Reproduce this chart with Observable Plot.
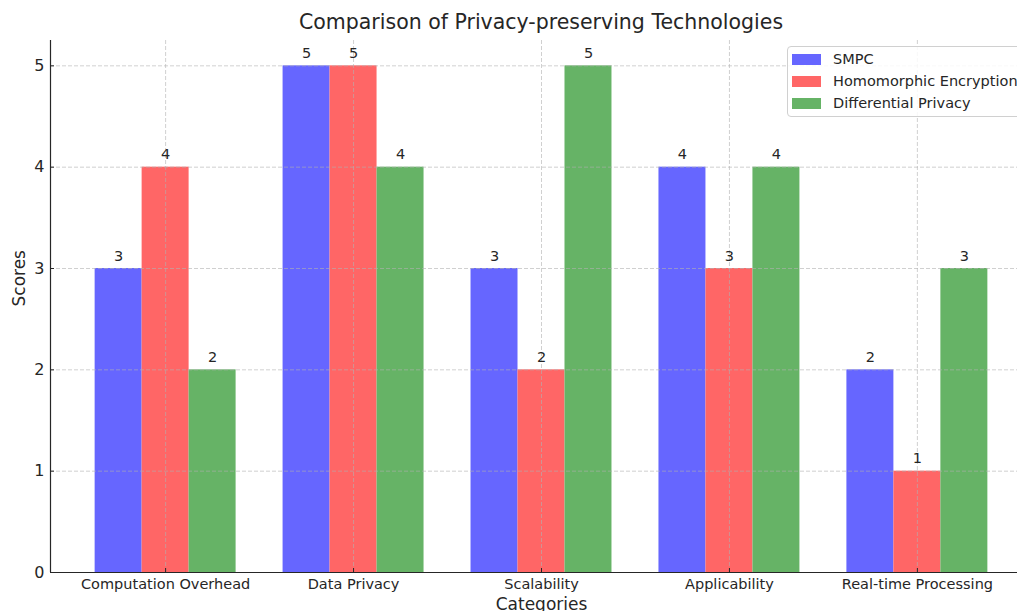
<!DOCTYPE html>
<html>
<head>
<meta charset="utf-8">
<script src="https://cdn.jsdelivr.net/npm/d3@7"></script>
<script src="https://cdn.jsdelivr.net/npm/@observablehq/plot@0.6"></script>
<style>
  html, body { margin: 0; padding: 0; background: #fff; overflow: hidden; }
  #wrap { position: relative; width: 1017px; height: 611px; overflow: hidden; font-family: "DejaVu Sans", sans-serif; color: #262626; }
  #title { position: absolute; left: 50px; width: 982px; top: 8px; text-align: center; font-size: 20.5px; line-height: 28px; }
  #legend { position: absolute; left: 787px; top: 46px; width: 260px; height: 71px; border: 1px solid #d0d0d0; border-radius: 4px; background: rgba(255,255,255,0.85); box-sizing: border-box; }
  .row { position: absolute; left: 4px; height: 22px; display: flex; align-items: center; font-size: 14.5px; white-space: nowrap; }
  .sw { width: 29px; height: 11px; margin-right: 12px; }
  #chart { position: absolute; left: 0; top: 0; width: 1040px; }
  #chart svg { max-width: none !important; }
</style>
</head>
<body>
<div id="wrap">
  <div id="chart"></div>
  <div id="title"></div>
  <div id="legend"></div>
</div>
<script>
const titleText = "Comparison of Privacy-preserving Technologies";
const categories = ["Computation Overhead", "Data Privacy", "Scalability", "Applicability", "Real-time Processing"];
const series = ["SMPC", "Homomorphic Encryption", "Differential Privacy"];
const smpc = [3, 5, 3, 4, 2];
const homomorphic = [4, 5, 2, 3, 1];
const differential = [2, 4, 5, 4, 3];
const colors = ["#6666ff", "#ff6666", "#66b366"];
const yTicks = [0, 1, 2, 3, 4, 5];
const xLabel = "Categories";
const yLabel = "Scores";

const barWidth = 0.25;
const valuesBySeries = [smpc, homomorphic, differential];
const rows = [];
categories.forEach((cat, i) => {
  series.forEach((s, j) => {
    const center = i + (j - 1) * barWidth;
    rows.push({cat, series: s, value: valuesBySeries[j][i], x1: center - barWidth / 2, x2: center + barWidth / 2, xc: center});
  });
});
const xMin = -(1.5 * barWidth), xMax = (categories.length - 1) + 1.5 * barWidth;
const xPad = (xMax - xMin) * 0.05;
const xDomain = [xMin - xPad, xMax + xPad];
const yDomain = [0, 5 * 1.05];
const catIdx = categories.map((_, i) => i);

const chart = Plot.plot({
  width: 1040,
  height: 611,
  marginLeft: 50,
  marginRight: 8,
  marginTop: 40,
  marginBottom: 39,
  style: {fontFamily: "DejaVu Sans, sans-serif", color: "#262626", background: "transparent", maxWidth: "none"},
  x: {type: "linear", domain: xDomain},
  y: {domain: yDomain},
  color: {domain: series, range: colors},
  marks: [
    Plot.rectY(rows, {x1: "x1", x2: "x2", y: "value", fill: "series"}),
    Plot.gridY(yTicks, {stroke: "#b0b0b0", strokeOpacity: 0.6, strokeDasharray: "4,2"}),
    Plot.gridX(catIdx, {stroke: "#b0b0b0", strokeOpacity: 0.6, strokeDasharray: "4,2"}),
    Plot.text(rows, {x: "xc", y: "value", text: d => String(d.value), lineAnchor: "bottom", dy: -8, fontSize: 14.5, fill: "#262626"}),
    Plot.ruleY([0], {stroke: "#262626", strokeWidth: 1.2}),
    Plot.ruleX([xDomain[0]], {stroke: "#262626", strokeWidth: 1.2}),
    Plot.axisY(yTicks, {tickSize: -4, tickPadding: 10, fontSize: 16, tickFormat: d3.format("d"), label: null, stroke: "#262626"}),
    Plot.axisX(catIdx, {tickSize: -4, tickPadding: 10, fontSize: 14.5, tickFormat: i => categories[i], label: null, stroke: "#262626"}),
    Plot.text([yLabel], {frameAnchor: "left", dx: -31, rotate: -90, fontSize: 17, fill: "#262626"}),
    Plot.text([xLabel], {frameAnchor: "bottom", dy: 37, fontSize: 17, fill: "#262626"})
  ]
});
document.getElementById("chart").appendChild(chart);
document.getElementById("title").textContent = titleText;

const legend = document.getElementById("legend");
series.forEach((s, j) => {
  const row = document.createElement("div");
  row.className = "row";
  row.style.top = (1 + j * 22) + "px";
  const sw = document.createElement("div");
  sw.className = "sw";
  sw.style.background = colors[j];
  const tx = document.createElement("span");
  tx.textContent = s;
  row.appendChild(sw);
  row.appendChild(tx);
  legend.appendChild(row);
});
</script>
</body>
</html>
